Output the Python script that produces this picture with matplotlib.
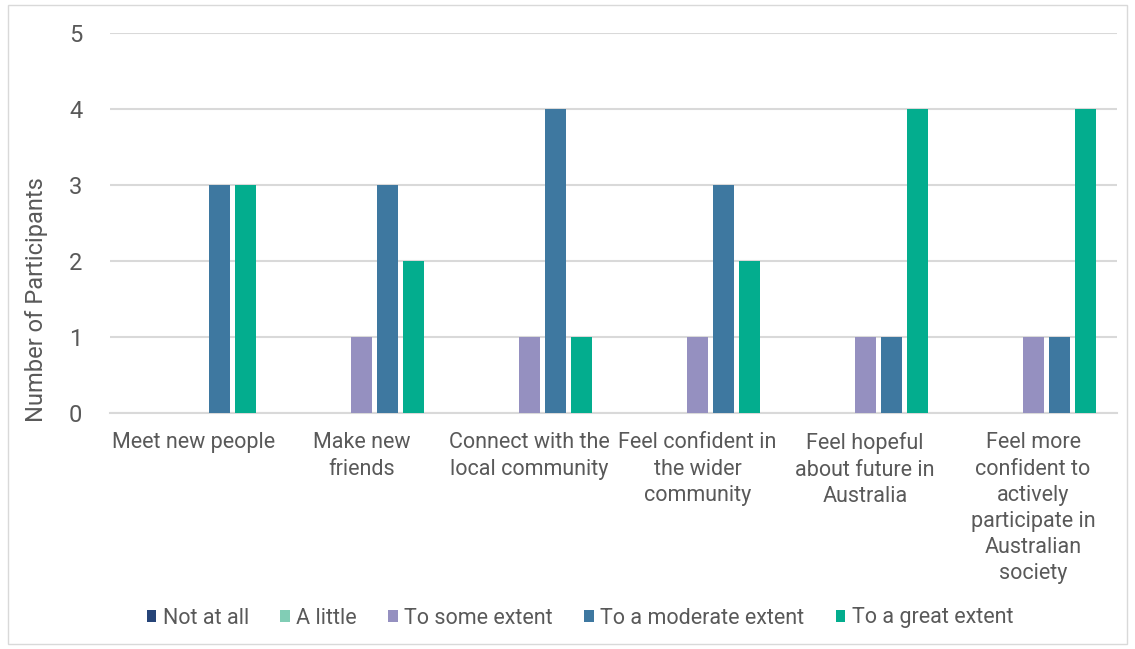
import numpy as np
import matplotlib.pyplot as plt
from matplotlib.patches import Rectangle

categories = [
    "Meet new people",
    "Make new\nfriends",
    "Connect with the\nlocal community",
    "Feel confident in\nthe wider\ncommunity",
    "Feel hopeful\nabout future in\nAustralia",
    "Feel more\nconfident to\nactively\nparticipate in\nAustralian\nsociety",
]
series_names = ["Not at all", "A little", "To some extent",
                "To a moderate extent", "To a great extent"]
not_at_all = [0, 0, 0, 0, 0, 0]
a_little = [0, 0, 0, 0, 0, 0]
some_extent = [0, 1, 1, 1, 1, 1]
moderate_extent = [3, 3, 4, 3, 1, 1]
great_extent = [3, 2, 1, 2, 4, 4]
y_ticks = [0, 1, 2, 3, 4, 5]

series = [not_at_all, a_little, some_extent, moderate_extent, great_extent]
colors = ["#264478", "#81CDB5", "#9590C0", "#3E78A0", "#03AD8E"]
text_color = "#595959"

plt.rcParams['font.family'] = ['Roboto', 'DejaVu Sans']

fig = plt.figure(figsize=(11.35, 6.49), dpi=100)
fig.patches.append(Rectangle((8 / 1135, 1 - 644 / 649), 1127 / 1135 - 8 / 1135,
                             (644 - 5) / 649, transform=fig.transFigure,
                             fill=False, edgecolor="#d9d9d9", linewidth=1))
ax = fig.add_axes([110 / 1135, 1 - 413 / 649, (1117 - 110) / 1135, (413 - 33) / 649])

x = np.arange(len(categories))
slot = 0.155
width = 0.125
for i, (vals, name, c) in enumerate(zip(series, series_names, colors)):
    ax.bar(x + (i - 2) * slot, vals, width=width, color=c, label=name, zorder=3)

ax.set_xlim(-0.5, len(categories) - 0.5)
ax.set_ylim(0, 5)
ax.set_yticks(y_ticks)
ax.set_yticklabels([str(t) for t in y_ticks])
ax.yaxis.grid(True, color="#d9d9d9", linewidth=1.5, zorder=0)
ax.set_axisbelow(True)
for s in ["top", "right", "left"]:
    ax.spines[s].set_visible(False)
ax.spines["bottom"].set_color("#d9d9d9")
ax.spines["bottom"].set_linewidth(1.5)
ax.tick_params(axis="both", length=0, colors=text_color)
ax.tick_params(axis="y", labelsize=17, pad=20)
ax.set_xticks(x)
ax.set_xticklabels(categories, fontsize=15.5, color=text_color, linespacing=1.32,
                   va="top")
ax.tick_params(axis="x", pad=14)

fig.text(37 / 1135, 1 - 300 / 649, "Number of Participants", rotation=90,
         ha="center", va="center", fontsize=17, color=text_color)

leg = fig.legend(loc="center", bbox_to_anchor=(580 / 1135, 1 - 618 / 649), ncol=5,
                 frameon=False, fontsize=15.5, handlelength=0.45, handleheight=0.45,
                 handletextpad=0.3, columnspacing=1.45)
for t in leg.get_texts():
    t.set_color(text_color)

fig.savefig("out.png", dpi=100)
